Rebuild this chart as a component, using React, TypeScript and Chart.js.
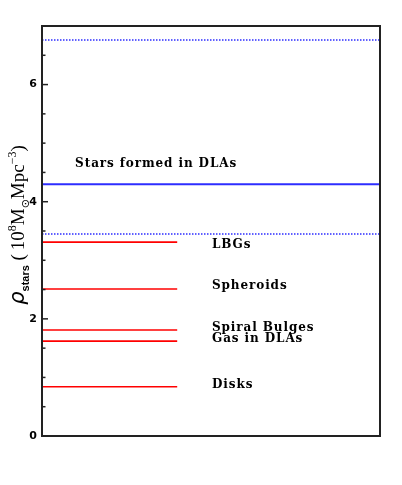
import React, { useEffect, useRef } from "react";
import { Chart, registerables } from "chart.js";

Chart.register(...registerables);

// ---- data ----
const componentNames = ["LBGs", "Spheroids", "Spiral Bulges", "Gas in DLAs", "Disks"];
const componentValues = [3.31, 2.51, 1.81, 1.62, 0.84];
const componentLabelValues = [3.21, 2.51, 1.79, 1.6, 0.82];
const componentXExtent = [0, 0.4];
const dlaLabel = "Stars formed in DLAs";
const dlaStarsValue = 4.3;
const dlaUpperValue = 6.76;
const dlaLowerValue = 3.45;
const dlaLabelValue = 4.59;
const yMajorTicks = [0, 2, 4, 6];
const yRange = [0, 7];

const RED = "rgb(255,0,0)";
const BLUE = "rgb(45,45,255)";

const overlayPlugin = {
  id: "overlay",
  afterDraw(chart: any) {
    const ctx = chart.ctx;
    const { left, right, top, bottom } = chart.chartArea;
    const y = chart.scales.y;
    const x = chart.scales.x;
    ctx.save();
    // frame
    ctx.strokeStyle = "#222";
    ctx.lineWidth = 2;
    ctx.strokeRect(left, top, right - left, bottom - top);
    // inside ticks
    ctx.lineWidth = 1.5;
    y.ticks.forEach((t: any) => {
      const py = y.getPixelForValue(t.value);
      const major = yMajorTicks.includes(t.value);
      ctx.beginPath();
      ctx.moveTo(left, py);
      ctx.lineTo(left + (major ? 6 : 3.5), py);
      ctx.stroke();
    });
    // labels
    ctx.fillStyle = "#000";
    ctx.font = 'bold 12px "DejaVu Serif"';
    ctx.textAlign = "left";
    ctx.textBaseline = "alphabetic";
    (ctx as any).letterSpacing = "0.9px";
    ctx.fillText(dlaLabel, x.getPixelForValue(0.098), y.getPixelForValue(dlaLabelValue));
    componentNames.forEach((n, i) => {
      ctx.fillText(n, x.getPixelForValue(0.503), y.getPixelForValue(componentLabelValues[i]));
    });
    (ctx as any).letterSpacing = "0px";
    // y title
    const pieces = [
      { t: "\u03C1", f: 'italic 21px "DejaVu Sans"', dy: 0 },
      { t: "stars", f: 'bold 11px "Liberation Sans"', dy: 5 },
      { t: " (\u2009", f: '19px "Liberation Serif"', dy: 0 },
      { t: "10", f: '19px "Liberation Serif"', dy: 0 },
      { t: "8", f: '12px "Liberation Serif"', dy: -8 },
      { t: "M", f: '19px "Liberation Serif"', dy: 0 },
      { t: "\u2299", f: '11px "DejaVu Sans"', dy: 5 },
      { t: "Mpc", f: '19px "Liberation Serif"', dy: 0 },
      { t: "\u22123", f: '12px "Liberation Serif"', dy: -8 },
      { t: ")", f: '19px "Liberation Serif"', dy: 0 },
    ];
    let total = 0;
    const widths = pieces.map((p) => {
      ctx.font = p.f;
      const w = ctx.measureText(p.t).width;
      total += w;
      return w;
    });
    ctx.translate(24, 225);
    ctx.rotate(-Math.PI / 2);
    let cx = -total / 2;
    pieces.forEach((p, i) => {
      ctx.font = p.f;
      ctx.fillText(p.t, cx, p.dy);
      cx += widths[i];
    });
    ctx.restore();
  },
};

export default function App() {
  const ref = useRef<HTMLCanvasElement | null>(null);
  useEffect(() => {
    if (!ref.current) return;
    const seg = (v: number, x0: number, x1: number) => [
      { x: x0, y: v },
      { x: x1, y: v },
    ];
    const datasets: any[] = [
      {
        data: seg(dlaUpperValue, 0, 1),
        borderColor: BLUE,
        borderWidth: 1.5,
        borderDash: [1.5, 1.5],
      },
      {
        data: seg(dlaStarsValue, 0, 1),
        borderColor: BLUE,
        borderWidth: 2,
      },
      {
        data: seg(dlaLowerValue, 0, 1),
        borderColor: BLUE,
        borderWidth: 1.5,
        borderDash: [1.5, 1.5],
      },
      ...componentValues.map((v) => ({
        data: seg(v, componentXExtent[0], componentXExtent[1]),
        borderColor: RED,
        borderWidth: 1.6,
      })),
    ].map((d) => ({ ...d, pointRadius: 0, fill: false, tension: 0 }));

    const chart = new Chart(ref.current, {
      type: "line",
      data: { datasets },
      options: {
        animation: false,
        responsive: true,
        maintainAspectRatio: false,
        layout: { padding: { left: 0, right: 22, top: 26, bottom: 49 } },
        scales: {
          x: { type: "linear", min: 0, max: 1, display: false },
          y: {
            min: yRange[0],
            max: yRange[1],
            afterFit: (s: any) => {
              s.width = 42;
            },
            ticks: {
              stepSize: 0.5,
              autoSkip: false,
              padding: 5,
              color: "#000",
              font: { family: "DejaVu Sans", weight: "bold", size: 11 },
              callback: (v: any) => (yMajorTicks.includes(Number(v)) ? String(v) : ""),
            },
            grid: { display: false, drawTicks: false },
            border: { display: false },
          },
        },
        plugins: { legend: { display: false }, tooltip: { enabled: false } },
      } as any,
      plugins: [overlayPlugin],
    });
    return () => chart.destroy();
  }, []);
  return (
    <div style={{ position: "absolute", left: 0, top: 0, width: 402, height: 485, background: "#fff" }}>
      <canvas ref={ref} />
    </div>
  );
}
